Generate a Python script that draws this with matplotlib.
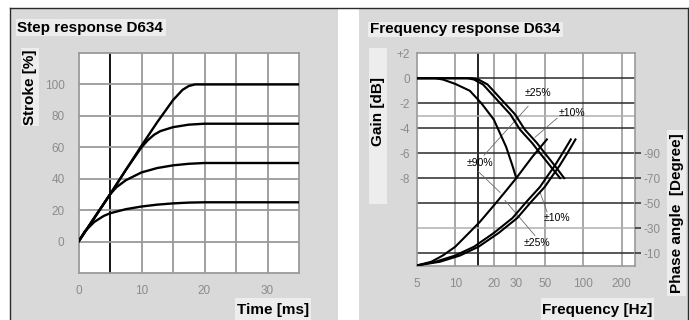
import matplotlib
matplotlib.use("Agg")
import matplotlib.pyplot as plt
from matplotlib.patches import Rectangle
from matplotlib.lines import Line2D

plt.rcParams["font.family"] = ["Liberation Sans", "DejaVu Sans"]

# step response D634: time [ms] vs stroke [%]
step_t_100 = [0, 1, 2.5, 5, 7.5, 10, 12.5, 15, 16.5, 17.5, 18.5, 35]
step_s_100 = [0, 6, 15, 30, 45.5, 61, 76, 90, 96.5, 99, 100, 100]
step_t_75 = [0, 1, 2.5, 5, 7.5, 10, 11, 12, 13, 15, 17.5, 20, 35]
step_s_75 = [0, 6, 15, 30, 45.5, 60, 64.5, 68, 70.3, 72.8, 74.4, 75, 75]
step_t_50 = [0, 1, 2.5, 4, 5, 6, 7.5, 10, 12.5, 15, 17.5, 20, 35]
step_s_50 = [0, 6, 15, 24, 30, 34.5, 39, 44, 46.8, 48.5, 49.5, 50, 50]
step_t_25 = [0, 1, 2.5, 4, 5, 7.5, 10, 12.5, 15, 17.5, 20, 35]
step_s_25 = [0, 6.5, 12.5, 16.3, 18, 20.6, 22.3, 23.5, 24.3, 24.8, 25, 25]

# frequency response D634: gain [dB]
gain_f_90 = [5, 7, 8, 10, 13, 16, 20, 25, 28, 30]
gain_db_90 = [0, 0, -0.1, -0.45, -1.0, -2.0, -3.3, -5.5, -7.0, -8.0]
gain_f_10 = [5, 12.5, 14, 16.5, 22, 27, 32, 40, 46, 55, 66]
gain_db_10 = [0, 0, -0.1, -0.5, -1.9, -2.9, -4.1, -5.2, -6.0, -7.0, -8.0]
gain_f_25 = [5, 13.5, 15.2, 17.9, 23.9, 29.4, 34.9, 43.6, 50.1, 60, 71]
gain_db_25 = [0, 0, -0.1, -0.5, -1.9, -2.9, -4.1, -5.2, -6.0, -7.0, -8.0]

# phase angle [degree]
phase_f_90 = [5, 6.5, 8, 10, 12.5, 15.6, 20, 25, 30, 40, 52]
phase_deg_90 = [0, -3, -8, -15, -25, -35, -48, -60, -70, -87, -101]
phase_f_10 = [5, 7, 10, 14, 20, 28, 36, 46, 52, 60, 69, 80]
phase_deg_10 = [0, -3, -8, -15, -26, -38, -51, -63, -71, -80, -90, -101]
phase_f_25 = [5, 7.6, 10.9, 15.2, 21.8, 30.5, 39.2, 50.1, 56.7, 65.4, 75.2, 87]
phase_deg_25 = [0, -3, -8, -15, -26, -38, -51, -63, -71, -80, -90, -101]

step_xticks = [0, 10, 20, 30]
step_yticks = [0, 20, 40, 60, 80, 100]
freq_ticks = [5, 10, 20, 30, 50, 100, 200]
freq_labels = ["5", "10", "20", "30", "50", "100", "200"]
gain_ticks = [2, 0, -2, -4, -6, -8]
gain_labels = ["+2", "0", "-2", "-4", "-6", "-8"]
phase_ticks = [-90, -70, -50, -30, -10]
phase_labels = ["-90", "-70", "-50", "-30", "-10"]

W, H = 689, 320
PANEL = "#d9d9d9"
BOX = "#ededed"
TICK = "#8c8c8c"
GRID = "#9a9a9a"
DARK = "#2a2a2a"

fig = plt.figure(figsize=(W / 100, H / 100), dpi=100)
fig.patch.set_facecolor("white")


def frect(x0, y0, x1, y1, color):
    fig.add_artist(Rectangle((x0 / W, 1 - y1 / H), (x1 - x0) / W, (y1 - y0) / H,
                             transform=fig.transFigure, facecolor=color,
                             edgecolor="none", zorder=0))


def fline(xs, ys):
    fig.add_artist(Line2D([x / W for x in xs], [1 - y / H for y in ys],
                          transform=fig.transFigure, color=DARK, lw=1.0, zorder=1))


# panels and frame
frect(10, 8, 338, 320, PANEL)
frect(359, 8, 688, 320, PANEL)
fline([10, 688], [8, 8])
fline([10, 10], [8, 320])
fline([688, 688], [8, 320])

# label boxes
frect(16, 19, 166, 36, BOX)
frect(368, 22, 563, 37, BOX)
frect(21, 48, 39, 126, BOX)
frect(369, 48, 387, 204, BOX)
frect(235, 298, 311, 320, BOX)
frect(541, 298, 654, 320, BOX)
frect(667, 130, 686, 296, BOX)

txt = dict(fontsize=11, fontweight="bold", color="black")
fig.text(17 / W, 1 - 28 / H, "Step response D634", ha="left", va="center", **txt)
fig.text(370 / W, 1 - 29.5 / H, "Frequency response D634", ha="left", va="center", **txt)
fig.text(30 / W, 1 - 87 / H, "Stroke [%]", rotation=90, ha="center", va="center", **txt)
fig.text(378 / W, 1 - 112 / H, "Gain [dB]", rotation=90, ha="center", va="center", **txt)
fig.text(273 / W, 1 - 310 / H, "Time [ms]", ha="center", va="center", **txt)
fig.text(597 / W, 1 - 310 / H, "Frequency [Hz]", ha="center", va="center", **txt)
fig.text(676.5 / W, 1 - 213 / H, "Phase angle  [Degree]", rotation=90,
         ha="center", va="center", **txt)

# ---- step response ----
ax1 = fig.add_axes([78.5 / W, 1 - 273 / H, 220.5 / W, 220 / H])
ax1.set_facecolor("white")
ax1.set_xlim(0, 35)
ax1.set_ylim(-20, 120)
for x in range(5, 35, 5):
    if x == 5:
        ax1.axvline(x, color="black", lw=1.3, zorder=1)
    else:
        ax1.axvline(x, color=GRID, lw=1.3, zorder=1)
for y in range(0, 120, 20):
    ax1.axhline(y, color=GRID, lw=1.3, zorder=1)

for t, s in [(step_t_100, step_s_100), (step_t_75, step_s_75),
             (step_t_50, step_s_50), (step_t_25, step_s_25)]:
    ax1.plot(t, s, color="black", lw=1.7, zorder=3, solid_capstyle="round")

ax1.set_xticks(step_xticks)
ax1.set_yticks(step_yticks)
ax1.tick_params(length=0, labelsize=8.5, labelcolor=TICK)
ax1.tick_params(axis="x", pad=9)
ax1.tick_params(axis="y", pad=10)
for sp in ax1.spines.values():
    sp.set_color(GRID)
    sp.set_linewidth(1.3)

# ---- frequency response ----
ax2 = fig.add_axes([416.7 / W, 1 - 265.5 / H, 218.3 / W, 212.2 / H])
ax2.set_facecolor("white")
ax2.set_xscale("log")
ax2.set_xlim(5, 254)
ax2.set_ylim(-15, 2)

for f in [10, 20, 30, 50, 100, 200]:
    ax2.axvline(f, color=GRID, lw=1.2, zorder=1)
ax2.axvline(15, color="black", lw=1.2, zorder=1)
for g in [0, -2, -4, -6, -8, -10, -14]:
    ax2.axhline(g, color=DARK, lw=1.1, zorder=1)
for g in [-3, -12]:
    ax2.axhline(g, color="#b0b0b0", lw=1.1, zorder=1)

for f, g in [(gain_f_90, gain_db_90), (gain_f_10, gain_db_10), (gain_f_25, gain_db_25)]:
    ax2.plot(f, g, color="black", lw=1.5, zorder=3)

ax2.set_xticks(freq_ticks)
ax2.set_xticklabels(freq_labels)
ax2.xaxis.set_minor_locator(matplotlib.ticker.NullLocator())
ax2.set_yticks(gain_ticks)
ax2.set_yticklabels(gain_labels)
ax2.tick_params(length=0, labelsize=8.5, labelcolor=TICK)
ax2.tick_params(axis="x", pad=9)
ax2.tick_params(axis="y", pad=5)
for sp in ax2.spines.values():
    sp.set_color(GRID)
    sp.set_linewidth(1.2)

ax3 = ax2.twinx()
ax3.set_ylim(0, -170)
for f, p in [(phase_f_90, phase_deg_90), (phase_f_10, phase_deg_10), (phase_f_25, phase_deg_25)]:
    ax3.plot(f, p, color="black", lw=1.5, zorder=3)
ax3.set_yticks(phase_ticks)
ax3.set_yticklabels(phase_labels)
ax3.tick_params(axis="y", length=4, width=1.1, color=DARK, direction="out",
                labelsize=8.5, labelcolor=TICK, pad=2)
for sp in ax3.spines.values():
    sp.set_visible(False)

# curve labels and leader lines
lab = dict(fontsize=7.5, color="black", ha="center", va="center", zorder=5)
ax2.text(44.3, -1.2, "±25%", **lab)
ax2.text(81.5, -2.8, "±10%", **lab)
ax2.text(15.6, -6.8, "±90%", **lab)
ax2.text(62.6, -11.2, "±10%", **lab)
ax2.text(43.6, -13.2, "±25%", **lab)
leader = dict(color="#6a6a6a", lw=0.6, zorder=2)
ax2.plot([37.1, 16.8], [-2.24, -6.17], **leader)
ax2.plot([62.5, 42.0], [-3.2, -4.73], **leader)
ax2.plot([15.1, 22.4], [-7.46, -9.14], **leader)
ax2.plot([52.2, 46.0], [-10.7, -9.14], **leader)
ax2.plot([42.0, 24.5], [-12.6, -9.79], **leader)

fig.savefig("out.png", dpi=100, facecolor="white")
